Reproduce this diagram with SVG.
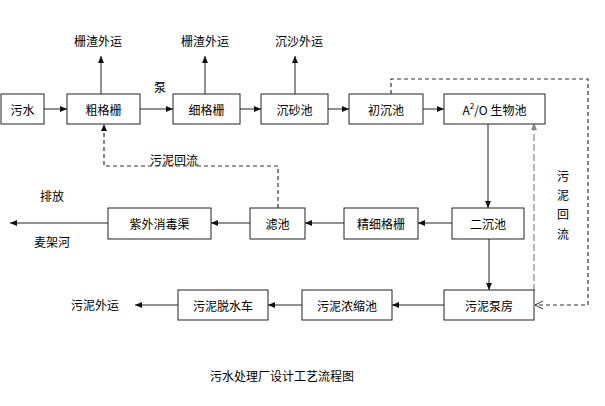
<svg xmlns="http://www.w3.org/2000/svg" width="605" height="406" viewBox="0 0 605 406">
<style>
.box{fill:#fff;stroke:#222;stroke-width:1}
.t{font-family:"Noto Sans CJK SC","Liberation Sans",sans-serif;font-size:12px;fill:#000;text-anchor:middle;dominant-baseline:central}
.ln{fill:none;stroke:#222;stroke-width:1}
.dash{fill:none;stroke:#333;stroke-width:1.2;stroke-dasharray:4,3}
.gdash{fill:none;stroke:#888;stroke-width:1.2;stroke-dasharray:7,3}
</style>
<defs>
<marker id="ah" markerWidth="8" markerHeight="8" refX="7" refY="4" orient="auto" markerUnits="userSpaceOnUse">
<path d="M0,1 L7,4 L0,7 Z" fill="#111"/>
</marker>
<marker id="ahg" markerWidth="8" markerHeight="8" refX="7" refY="4" orient="auto" markerUnits="userSpaceOnUse">
<path d="M0,1 L7,4 L0,7 Z" fill="#888"/>
</marker>
<marker id="ao" markerWidth="10" markerHeight="10" refX="8" refY="5" orient="auto" markerUnits="userSpaceOnUse">
<path d="M0,1 L8,5 L0,9" fill="none" stroke="#333" stroke-width="1"/>
</marker>
</defs>
<rect width="605" height="406" fill="#fff"/>

<g id="connectors">
<line class="ln" x1="44" y1="109" x2="67" y2="109" marker-end="url(#ah)"/>
<line class="ln" x1="140" y1="109" x2="173" y2="109" marker-end="url(#ah)"/>
<line class="ln" x1="240" y1="109" x2="261" y2="109" marker-end="url(#ah)"/>
<line class="ln" x1="328" y1="109" x2="349" y2="109" marker-end="url(#ah)"/>
<line class="ln" x1="423" y1="109" x2="444" y2="109" marker-end="url(#ah)"/>
<line class="ln" x1="101" y1="94" x2="101" y2="56" marker-end="url(#ah)"/>
<line class="ln" x1="205" y1="94" x2="205" y2="56" marker-end="url(#ah)"/>
<line class="ln" x1="295" y1="94" x2="295" y2="56" marker-end="url(#ah)"/>
<line class="ln" x1="488" y1="123" x2="488" y2="208" marker-end="url(#ah)"/>
<line class="ln" x1="452" y1="223" x2="418" y2="223" marker-end="url(#ah)"/>
<line class="ln" x1="344" y1="223" x2="305" y2="223" marker-end="url(#ah)"/>
<line class="ln" x1="250" y1="223" x2="211" y2="223" marker-end="url(#ah)"/>
<line class="ln" x1="108" y1="223" x2="10" y2="223" marker-end="url(#ah)"/>
<line class="ln" x1="489" y1="239" x2="489" y2="290" marker-end="url(#ah)"/>
<line class="ln" x1="444" y1="305" x2="392" y2="305" marker-end="url(#ah)"/>
<line class="ln" x1="302" y1="305" x2="268" y2="305" marker-end="url(#ah)"/>
<line class="ln" x1="178" y1="305" x2="135" y2="305" marker-end="url(#ah)"/>
<polyline class="dash" points="391,94 391,79 588,79 588,305 535,305" marker-end="url(#ao)"/>
<polyline class="dash" points="278,208 278,166 104,166 104,124" marker-end="url(#ah)"/>
<line class="gdash" x1="534" y1="291" x2="534" y2="123" marker-end="url(#ahg)"/>
</g>

<g id="n-wushui"><rect class="box" x="1" y="94" width="43" height="30"/><text class="t" x="22.5" y="109">污水</text></g>
<g id="n-cugeshan"><rect class="box" x="67" y="94" width="73" height="30"/><text class="t" x="103.5" y="109">粗格栅</text></g>
<g id="n-xigeshan"><rect class="box" x="173" y="94" width="67" height="30"/><text class="t" x="206.5" y="109">细格栅</text></g>
<g id="n-chenshachi"><rect class="box" x="261" y="94" width="67" height="30"/><text class="t" x="294.5" y="109">沉砂池</text></g>
<g id="n-chuchenchi"><rect class="box" x="349" y="94" width="74" height="30"/><text class="t" x="386" y="109">初沉池</text></g>
<g id="n-a2o"><rect class="box" x="444" y="94" width="101" height="30"/><text class="t" x="494.5" y="109">A<tspan font-size="8" dy="-4">2</tspan><tspan dy="4">/O 生物池</tspan></text></g>
<g id="n-erchenchi"><rect class="box" x="452" y="208" width="72" height="31"/><text class="t" x="488" y="223.5">二沉池</text></g>
<g id="n-jingxigeshan"><rect class="box" x="344" y="208" width="74" height="31"/><text class="t" x="381" y="223.5">精细格栅</text></g>
<g id="n-lvchi"><rect class="box" x="250" y="208" width="55" height="31"/><text class="t" x="277.5" y="223.5">滤池</text></g>
<g id="n-ziwai"><rect class="box" x="108" y="208" width="103" height="31"/><text class="t" x="159.5" y="223.5">紫外消毒渠</text></g>
<g id="n-bengfang"><rect class="box" x="444" y="290" width="90" height="30"/><text class="t" x="489" y="305">污泥泵房</text></g>
<g id="n-nongsuo"><rect class="box" x="302" y="290" width="90" height="30"/><text class="t" x="347" y="305">污泥浓缩池</text></g>
<g id="n-tuoshui"><rect class="box" x="178" y="290" width="90" height="30"/><text class="t" x="223" y="305">污泥脱水车</text></g>

<g id="labels">
<text class="t" x="98" y="40">栅渣外运</text>
<text class="t" x="205" y="40">栅渣外运</text>
<text class="t" x="299" y="40">沉沙外运</text>
<text class="t" x="160" y="86">泵</text>
<text class="t" x="174" y="159">污泥回流</text>
<text class="t" x="52" y="195">排放</text>
<text class="t" x="52" y="241">麦架河</text>
<text class="t" x="563" y="175">污</text>
<text class="t" x="563" y="194">泥</text>
<text class="t" x="563" y="213">回</text>
<text class="t" x="563" y="233">流</text>
<text class="t" x="95" y="304">污泥外运</text>
<text class="t" x="282" y="375" font-size="13">污水处理厂设计工艺流程图</text>
</g>
</svg>
